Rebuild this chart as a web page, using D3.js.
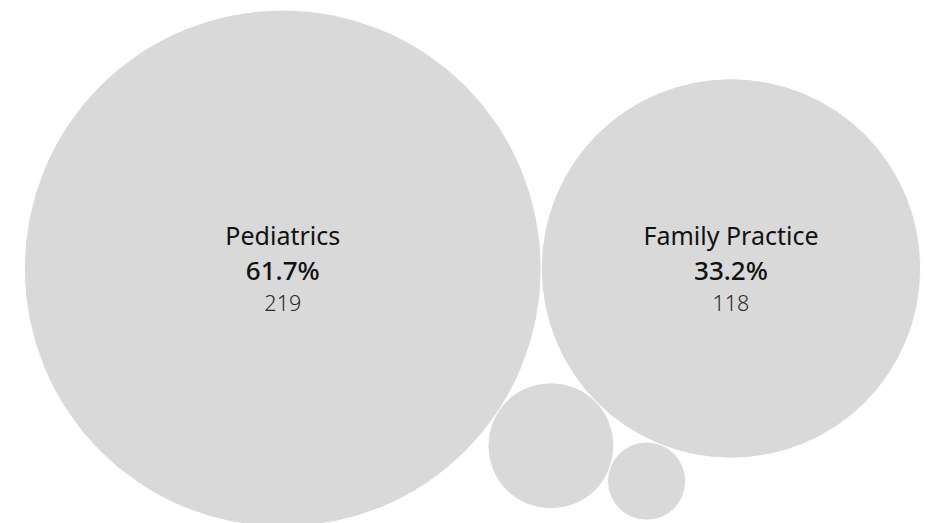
<!DOCTYPE html>
<html>
<head>
<meta charset="utf-8">
<script src="https://cdn.jsdelivr.net/npm/d3@7"></script>
<style>
  html, body { margin: 0; padding: 0; background: #ffffff; }
  svg { display: block; }
</style>
</head>
<body>
<svg id="chart" width="932" height="523"></svg>
<script>
// ---- data ----
const categories = ["Pediatrics", "Family Practice", "Other 1", "Other 2"];
const counts = [219, 118, 13, 5];
const showLabel = [true, true, false, false];

// ---- setup ----
const W = 932, H = 523;
const svg = d3.select("#chart");
const total = d3.sum(counts);
const pctFmt = d3.format(".1%");

// unit radius scale (area proportional to count)
const rUnit = d3.scaleSqrt().domain([0, d3.max(counts)]).range([0, 1]);

// packed layout: big circle, next tangent to its right, then each tangent to two previous
function tangent(a, b, r, side) {
  const dx = b.x - a.x, dy = b.y - a.y;
  const d = Math.hypot(dx, dy);
  const da = a.r + r, db = b.r + r;
  const t = (d * d + da * da - db * db) / (2 * d);
  const h = Math.sqrt(Math.max(0, da * da - t * t));
  const ux = dx / d, uy = dy / d;
  return { x: a.x + t * ux - side * h * uy, y: a.y + t * uy + side * h * ux };
}
const nodes = counts.map((c, i) => ({ name: categories[i], count: c, r: rUnit(c), label: showLabel[i] }));
nodes[0].x = 0; nodes[0].y = 0;
nodes[1].x = nodes[0].r + nodes[1].r; nodes[1].y = 0;
Object.assign(nodes[2], tangent(nodes[0], nodes[1], nodes[2].r, 1));
Object.assign(nodes[3], tangent(nodes[2], nodes[1], nodes[3].r, 1));

// fit layout into the view
const minX = d3.min(nodes, d => d.x - d.r), maxX = d3.max(nodes, d => d.x + d.r);
const minY = d3.min(nodes, d => d.y - d.r);
const padLeft = 24.3, padRight = 920.7, padTop = 10;
const k = (padRight - padLeft) / (maxX - minX);
const xS = d3.scaleLinear().domain([minX, maxX]).range([padLeft, padRight]);
const yS = d3.scaleLinear().domain([minY, minY + (maxX - minX)]).range([padTop, padTop + (padRight - padLeft)]);

const g = svg.selectAll("g.bubble").data(nodes).join("g").attr("class", "bubble")
  .attr("transform", d => `translate(${xS(d.x)},${yS(d.y)})`);

g.append("circle")
  .attr("r", d => d.r * k)
  .attr("fill", "#d9d9d9")
  .attr("stroke", "#ffffff")
  .attr("stroke-width", 1);

const lab = g.filter(d => d.label);
lab.append("text")
  .attr("text-anchor", "middle")
  .attr("y", -23)
  .attr("font-family", "'Noto Sans', sans-serif")
  .attr("font-size", 25)
  .attr("fill", "#111111")
  .text(d => d.name);
lab.append("text")
  .attr("text-anchor", "middle")
  .attr("y", 12)
  .attr("font-family", "'Noto Sans', sans-serif")
  .attr("font-size", 26)
  .attr("font-weight", 500)
  .attr("fill", "#111111")
  .text(d => pctFmt(d.count / total));
lab.append("text")
  .attr("text-anchor", "middle")
  .attr("y", 43)
  .attr("font-family", "'Noto Sans', sans-serif")
  .attr("font-size", 21.5)
  .attr("font-weight", 300)
  .attr("fill", "#2a2a2a")
  .text(d => d.count);
</script>
</body>
</html>
